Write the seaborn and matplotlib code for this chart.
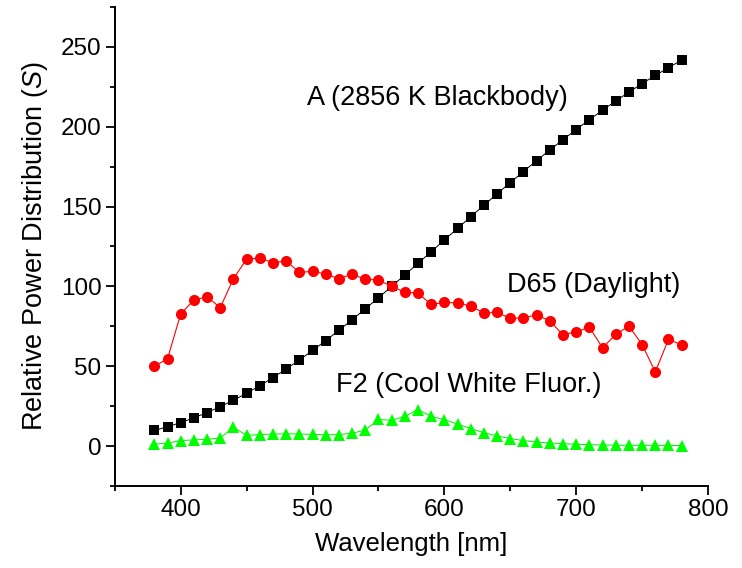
import numpy as np
import pandas as pd
import matplotlib
matplotlib.use("Agg")
import matplotlib.pyplot as plt
from matplotlib.ticker import MultipleLocator
import seaborn as sns

# CIE standard illuminants, relative spectral power at 10 nm steps
wavelength = list(range(380, 781, 10))

illum_a = [9.80, 12.09, 14.71, 17.68, 20.99, 24.67, 28.70, 33.09, 37.81, 42.87,
           48.24, 53.91, 59.86, 66.06, 72.50, 79.13, 85.95, 92.91, 100.00, 107.18,
           114.44, 121.73, 129.04, 136.35, 143.62, 150.84, 157.98, 165.03, 171.96, 178.77,
           185.43, 191.93, 198.26, 204.41, 210.36, 216.12, 221.67, 227.00, 232.12, 237.01,
           241.68]

illum_d65 = [49.98, 54.65, 82.75, 91.49, 93.43, 86.68, 104.86, 117.01, 117.81, 114.86,
             115.92, 108.81, 109.35, 107.80, 104.79, 107.69, 104.41, 104.05, 100.00, 96.33,
             95.79, 88.69, 90.01, 89.60, 87.70, 83.29, 83.70, 80.03, 80.21, 82.28,
             78.28, 69.72, 71.61, 74.35, 61.60, 69.89, 75.09, 63.59, 46.42, 66.81,
             63.38]

illum_f2 = [1.18, 1.84, 3.44, 3.85, 4.19, 5.06, 11.81, 6.63, 7.19, 7.54,
            7.65, 7.62, 7.28, 7.05, 7.16, 8.04, 10.01, 16.64, 16.16, 18.62,
            22.79, 18.66, 16.54, 13.80, 10.95, 8.40, 6.31, 4.68, 3.45, 2.55,
            1.89, 1.53, 1.10, 0.88, 0.68, 0.56, 0.51, 0.47, 0.46, 0.40,
            0.27]

x_ticks = [400, 500, 600, 700, 800]
y_ticks = [0, 50, 100, 150, 200, 250]

sns.set_theme(style="white")
plt.rcParams["font.family"] = ["Liberation Sans", "DejaVu Sans"]
plt.rcParams["mathtext.fontset"] = "custom"
plt.rcParams["mathtext.it"] = "Liberation Sans:italic"
plt.rcParams["mathtext.rm"] = "Liberation Sans"
plt.rcParams["text.color"] = "black"
plt.rcParams["axes.labelcolor"] = "black"

df = pd.DataFrame({"wl": wavelength, "A": illum_a, "D65": illum_d65, "F2": illum_f2})

fig = plt.figure(figsize=(7.42, 5.68), dpi=100)
ax = fig.add_axes([0.1547, 0.1444, 0.7995, 0.8433])

sns.lineplot(data=df, x="wl", y="A", ax=ax, color="black", lw=0.7,
             marker="s", markersize=6.6, markeredgewidth=0, markerfacecolor="black")
sns.lineplot(data=df, x="wl", y="D65", ax=ax, color="#ff0000", lw=0.8,
             marker="o", markersize=8.0, markeredgewidth=0, markerfacecolor="#ff0000")
sns.lineplot(data=df, x="wl", y="F2", ax=ax, color="#00ee00", lw=0.7,
             marker="^", markersize=8.6, markeredgewidth=0, markerfacecolor="#00ff00")

ax.set_xlim(350, 800)
ax.set_ylim(-25, 275)
ax.set_xticks(x_ticks)
ax.set_yticks(y_ticks)
ax.xaxis.set_minor_locator(MultipleLocator(50))
ax.yaxis.set_minor_locator(MultipleLocator(25))
ax.tick_params(axis="both", which="major", direction="out", length=6.5, width=1.3,
               labelsize=17.5, color="black", labelcolor="black", pad=3,
               bottom=True, left=True)
ax.tick_params(axis="both", which="minor", direction="out", length=3.8, width=1.3,
               color="black", bottom=True, left=True)

for side in ["top", "right"]:
    ax.spines[side].set_visible(False)
for side in ["left", "bottom"]:
    ax.spines[side].set_linewidth(1.4)
    ax.spines[side].set_color("black")

ax.set_xlabel("Wavelength [nm]", fontsize=18.5, color="black", labelpad=8)
ax.set_ylabel("Relative Power Distribution ($\\mathit{S}$)", fontsize=19.5,
              color="black", labelpad=8)

ax.text(495.8, 218, "A (2856 K Blackbody)", fontsize=19.5, ha="left", va="center",
        color="black")
ax.text(647.3, 101, "D65 (Daylight)", fontsize=19.5, ha="left", va="center",
        color="black")
ax.text(517.8, 38.5, "F2 (Cool White Fluor.)", fontsize=19.5, ha="left", va="center",
        color="black")

fig.savefig("out.png", dpi=100, facecolor="white")
